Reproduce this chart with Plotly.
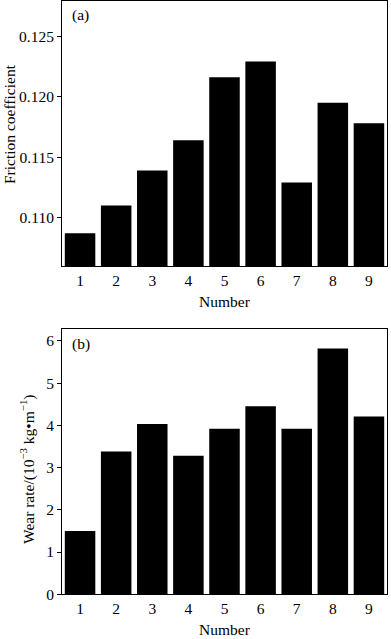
import plotly.graph_objects as go

numbers = ["1", "2", "3", "4", "5", "6", "7", "8", "9"]
friction = [0.1087, 0.1110, 0.1139, 0.1164, 0.1216, 0.1229, 0.1129, 0.1195, 0.1178]
wear_rate = [1.50, 3.38, 4.03, 3.28, 3.92, 4.45, 3.92, 5.82, 4.21]
friction_ticks = [0.110, 0.115, 0.120, 0.125]
wear_ticks = [0, 1, 2, 3, 4, 5, 6]

FONT = "Liberation Serif, Times New Roman, serif"
FS = 15.5
W, H = 391, 639

fig = go.Figure()
fig.add_trace(go.Bar(x=numbers, y=friction, marker=dict(color="black", line=dict(width=0)),
                     xaxis="x", yaxis="y", showlegend=False))
fig.add_trace(go.Bar(x=numbers, y=wear_rate, marker=dict(color="black", line=dict(width=0)),
                     xaxis="x2", yaxis="y2", showlegend=False))

xdom = [62 / W, 387 / W]
dom_a = [1 - 266 / H, 1 - 1 / H]
dom_b = [1 - 594.3 / H, 1 - 329 / H]

axis_common = dict(showline=True, linecolor="black", linewidth=1, mirror=True,
                   showgrid=False, zeroline=False, automargin=False,
                   tickfont=dict(family=FONT, size=FS, color="black"))


def ann(text, x, y, angle=0):
    return dict(text=text, x=x / W, y=1 - y / H, xref="paper", yref="paper",
                textangle=angle, showarrow=False, xanchor="center", yanchor="middle",
                font=dict(family=FONT, size=FS, color="black"))


fig.update_layout(
    width=W, height=H, autosize=False,
    margin=dict(l=0, r=0, t=0, b=0, autoexpand=False),
    paper_bgcolor="white", plot_bgcolor="white",
    bargap=0.155,
    font=dict(family=FONT, size=FS, color="black"),
    xaxis=dict(domain=xdom, anchor="y", ticks="", range=[-0.5, 8.5], **axis_common),
    yaxis=dict(domain=dom_a, anchor="x", range=[0.106, 0.1279],
               tickvals=friction_ticks, tickformat=".3f", ticks="outside", ticklen=4,
               tickcolor="black", **axis_common),
    xaxis2=dict(domain=xdom, anchor="y2", ticks="", range=[-0.5, 8.5], **axis_common),
    yaxis2=dict(domain=dom_b, anchor="x2", range=[0, 6.28],
                tickvals=wear_ticks, ticks="outside", ticklen=4,
                tickcolor="black", **axis_common),
    annotations=[
        ann("Friction coefficient", 9, 124, -90),
        ann("Wear rate/(10<sup>−3</sup> kg•m<sup>−1</sup>)", 27, 469, -90),
        ann("Number", 225, 302),
        ann("Number", 225, 629),
        ann("(a)", 80, 15),
        ann("(b)", 81, 344),
    ],
)

fig.write_html("out.html", config={"displayModeBar": False},
               post_script="document.body.style.margin='0';document.body.style.overflow='hidden';")
